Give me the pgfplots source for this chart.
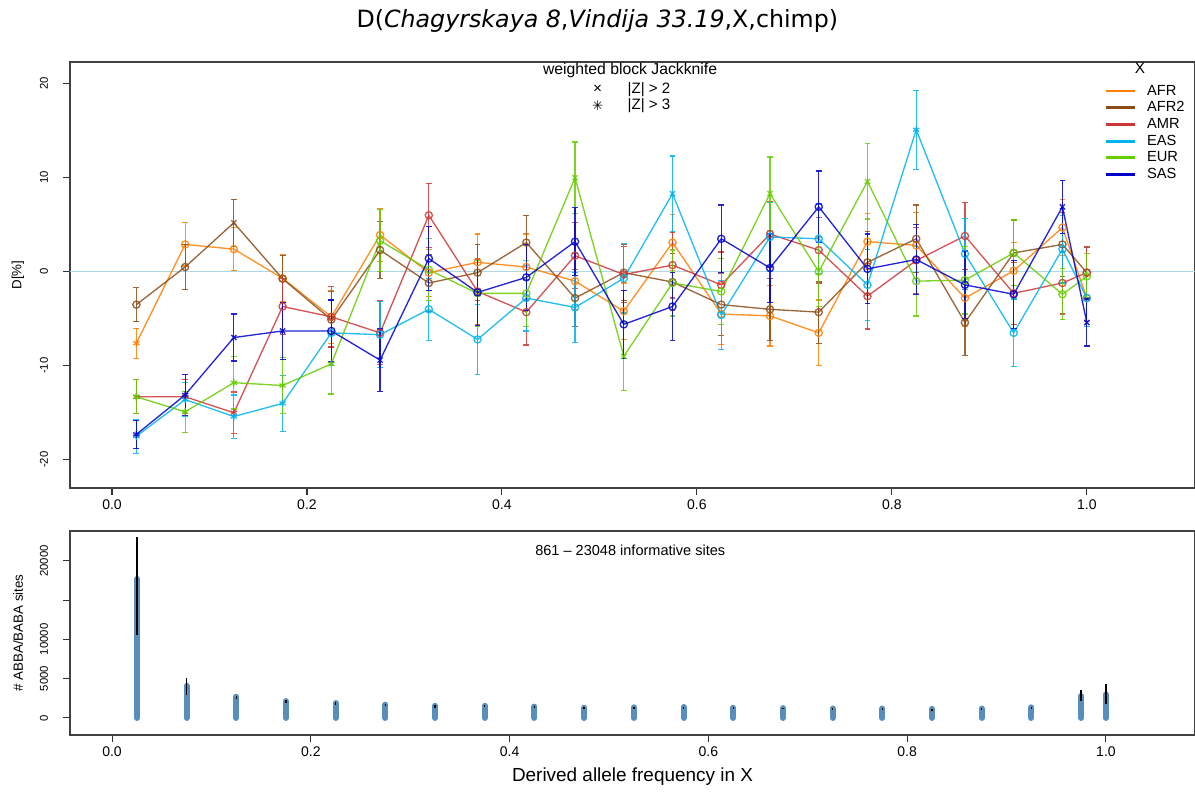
\documentclass[border=0pt]{standalone}
\usepackage{fontspec}
\setmainfont{Liberation Sans}
\newfontfamily\djv{DejaVu Sans}
\usepackage{pgfplots}
\usepackage{pgfplotstable}
\pgfplotsset{compat=1.18}

\definecolor{AFRc}{RGB}{255,127,0}
\definecolor{AFRtwoc}{RGB}{139,76,24}
\definecolor{AMRc}{RGB}{205,55,55}
\definecolor{EASc}{RGB}{0,178,238}
\definecolor{EURc}{RGB}{102,205,0}
\definecolor{SASc}{RGB}{0,0,205}
\definecolor{zeroline}{RGB}{173,216,230}
\definecolor{barblue}{RGB}{70,130,180}

\pgfplotstableread{
x y e c
0.025 -7.6 1.6 s
0.075 2.9 2.3 c
0.125 2.4 2.3 c
0.175 -0.7 2.5 c
0.225 -4.8 2.8 c
0.275 3.9 2.8 c
0.325 -0.1 2.5 c
0.375 1.0 3.0 c
0.425 0.5 3.5 c
0.475 -1.0 3.0 c
0.525 -4.2 3.0 c
0.575 3.1 3.0 c
0.625 -4.5 3.2 c
0.675 -4.7 3.2 c
0.725 -6.5 3.5 c
0.775 3.2 3.0 c
0.825 2.8 3.5 c
0.875 -2.8 3.0 c
0.925 0.1 3.0 c
0.975 4.7 3.0 c
1.0 -2.8 2.5 c
}\afr
\pgfplotstableread{
x y e c
0.025 -3.5 1.8 c
0.075 0.5 2.4 c
0.125 5.2 2.5 x
0.175 -0.75 2.5 c
0.225 -5.1 3.0 c
0.275 2.3 3.0 c
0.325 -1.2 3.0 c
0.375 -0.1 3.0 c
0.425 3.1 2.9 c
0.475 -2.8 3.0 c
0.525 -0.1 3.0 c
0.575 -1.1 3.0 c
0.625 -3.5 3.3 c
0.675 -4.0 3.3 c
0.725 -4.3 3.3 c
0.775 1.0 3.3 c
0.825 3.5 3.6 c
0.875 -5.4 3.5 c
0.925 2.0 3.5 c
0.975 2.9 3.4 c
1.0 -0.1 2.7 c
}\afrtwo
\pgfplotstableread{
x y e c
0.025 -13.3 1.8 s
0.075 -13.3 1.8 s
0.125 -15.0 2.2 s
0.175 -3.7 3.0 c
0.225 -4.8 3.2 c
0.275 -6.5 3.4 c
0.325 6.0 3.4 c
0.375 -2.1 3.5 c
0.425 -4.3 3.5 c
0.475 1.7 3.5 c
0.525 -0.3 3.0 c
0.575 0.7 3.5 c
0.625 -1.4 3.5 c
0.675 4.0 3.5 c
0.725 2.3 3.5 c
0.775 -2.6 3.5 c
0.825 1.2 3.5 c
0.875 3.8 3.6 c
0.925 -2.3 3.3 c
0.975 -1.2 3.3 c
1.0 -0.1 2.8 c
}\amr
\pgfplotstableread{
x y e c
0.025 -17.5 1.8 s
0.075 -13.6 1.8 s
0.125 -15.4 2.3 s
0.175 -14.0 3.0 s
0.225 -6.5 3.5 c
0.275 -6.7 3.5 c
0.325 -4.0 3.3 c
0.375 -7.2 3.7 c
0.425 -2.8 3.5 c
0.475 -3.8 3.7 c
0.525 -0.7 3.7 c
0.575 8.3 4.0 x
0.625 -4.6 3.7 c
0.675 3.7 3.7 c
0.725 3.5 3.7 c
0.775 -1.4 3.8 c
0.825 15.1 4.2 s
0.875 1.9 3.8 c
0.925 -6.5 3.6 c
0.975 2.4 3.6 c
1.0 -2.8 3.0 c
}\eas
\pgfplotstableread{
x y e c
0.025 -13.3 1.8 s
0.075 -14.9 2.2 s
0.125 -11.8 2.8 s
0.175 -12.1 3.0 s
0.225 -9.8 3.2 s
0.275 3.3 3.3 c
0.325 0.2 3.3 c
0.375 -2.3 3.5 c
0.425 -2.3 3.5 c
0.475 10.0 3.8 x
0.525 -9.0 3.6 x
0.575 -1.2 3.5 c
0.625 -2.1 3.5 c
0.675 8.3 3.9 x
0.725 0.0 3.7 c
0.775 9.6 4.0 x
0.825 -1.0 3.7 c
0.875 -0.9 3.6 c
0.925 2.0 3.5 c
0.975 -2.4 2.7 c
1.0 -0.5 2.4 c
}\eur
\pgfplotstableread{
x y e c
0.025 -17.3 1.5 s
0.075 -13.1 2.2 s
0.125 -7.0 2.5 x
0.175 -6.3 3.0 x
0.225 -6.3 3.3 c
0.275 -9.4 3.3 x
0.325 1.4 3.4 c
0.375 -2.2 3.5 c
0.425 -0.6 3.5 c
0.475 3.2 3.6 c
0.525 -5.6 3.6 c
0.575 -3.7 3.6 c
0.625 3.5 3.6 c
0.675 0.4 3.7 c
0.725 6.9 3.8 c
0.775 0.3 3.7 c
0.825 1.3 3.7 c
0.875 -1.4 3.6 c
0.925 -2.4 3.6 c
0.975 6.9 2.8 x
1.0 -5.4 2.5 x
}\sas
\pgfplotstableread{
x y ep em
0.025 17700 5348 7200
0.075 4100 1000 1200
0.125 2700 100 300
0.175 2150 100 250
0.225 1900 100 200
0.275 1700 50 200
0.325 1550 100 250
0.375 1550 50 200
0.425 1450 50 200
0.475 1300 50 150
0.525 1350 50 150
0.575 1400 50 250
0.625 1300 50 200
0.675 1250 50 150
0.725 1200 50 200
0.775 1200 50 150
0.825 1150 50 289
0.875 1200 50 150
0.925 1350 50 150
0.975 2800 700 700
1.0 3000 1300 1200
}\sites

\pgfplotsset{
  dser/.style={color=#1, line width=1pt, draw opacity=0.85, mark size=2.7pt,
    scatter, scatter src=explicit symbolic,
    scatter/classes={c={mark=o,draw=#1},x={mark=x,draw=#1},s={mark=asterisk,draw=#1}},
    /pgfplots/error bars/y dir=both, /pgfplots/error bars/y explicit,
    /pgfplots/error bars/error bar style={draw=#1, line width=0.9pt, draw opacity=0.85},
    /pgfplots/error bars/error mark options={draw=#1, rotate=90, mark size=2.2pt, line width=0.9pt},
    forget plot},
  rstyle/.style={
    scale only axis, width=843.75pt,
    tick align=outside, xtick pos=bottom, ytick pos=left,
    major tick length=5pt,
    axis line style={black!75, line width=0.8pt},
    every tick/.style={black!80, line width=0.8pt},
    /pgf/number format/assume math mode=true,
    xtick={0,0.2,0.4,0.6,0.8,1},
    xticklabel style={font=\fontsize{10.5}{12}\selectfont,
      /pgf/number format/.cd, fixed, fixed zerofill, precision=1},
    yticklabel style={font=\fontsize{8.5}{10}\selectfont, xshift=-8pt, rotate=90, anchor=south},
    ylabel style={at={(axis description cs:-0.0462,0.5)}, anchor=center,
      font=\fontsize{10}{12}\selectfont},
  }
}

\begin{document}
\begin{tikzpicture}[x=1pt,y=1pt]
\useasboundingbox (0,0) rectangle (896.25,-594);
\node[font=\djv\fontsize{17.8}{21}\selectfont] at (448,-15.5)
  {D(\textit{Chagyrskaya 8},\textit{Vindija 33.19},X,chimp)};

\begin{axis}[rstyle,
  at={(52.5pt,-366pt)}, anchor=south west,
  height=319.5pt,
  xmin=-0.0431, xmax=1.111, ymin=-23, ymax=22.3,
  ytick={-20,-10,0,10,20},
  ylabel={D[\%]},
  legend style={at={(axis description cs:0.919,0.953)}, anchor=north west,
    draw=none, fill=none, font=\fontsize{11}{12}\selectfont,
    inner sep=0pt, row sep=-0.6pt,
    /tikz/every odd column/.append style={column sep=6pt}},
  legend cell align=left,
  legend image code/.code={\draw[#1,line width=2.2pt] (0pt,0pt) -- (22pt,0pt);},
]
\addplot[zeroline, line width=1pt, forget plot] coordinates {(-0.0431,0) (1.111,0)};
\addplot[dser=AFRc] table[x=x,y=y,y error=e,meta=c] {\afr};
\addplot[dser=AFRtwoc] table[x=x,y=y,y error=e,meta=c] {\afrtwo};
\addplot[dser=AMRc] table[x=x,y=y,y error=e,meta=c] {\amr};
\addplot[dser=EASc] table[x=x,y=y,y error=e,meta=c] {\eas};
\addplot[dser=EURc] table[x=x,y=y,y error=e,meta=c] {\eur};
\addplot[dser=SASc] table[x=x,y=y,y error=e,meta=c] {\sas};
\addlegendimage{AFRc}\addlegendentry{AFR}
\addlegendimage{AFRtwoc}\addlegendentry{AFR2}
\addlegendimage{AMRc}\addlegendentry{AMR}
\addlegendimage{EASc}\addlegendentry{EAS}
\addlegendimage{EURc}\addlegendentry{EUR}
\addlegendimage{SASc}\addlegendentry{SAS}
\node[font=\fontsize{11.5}{13}\selectfont] at (axis description cs:0.951,0.985) {X};
\node[font=\fontsize{11.8}{13}\selectfont] at (axis description cs:0.4978,0.980) {weighted block Jackknife};
\node[font=\fontsize{11.5}{13}\selectfont] at (axis description cs:0.469,0.936) {×};
\node[font=\fontsize{11.3}{13}\selectfont, anchor=west] at (axis description cs:0.4915,0.936) {|Z| > 2};
\node[font=\djv\fontsize{10}{11}\selectfont] at (axis description cs:0.469,0.898) {✳};
\node[font=\fontsize{11.3}{13}\selectfont, anchor=west] at (axis description cs:0.4915,0.898) {|Z| > 3};
\end{axis}

\begin{axis}[rstyle,
  at={(52.5pt,-551.25pt)}, anchor=south west,
  height=153pt,
  xmin=-0.0423, xmax=1.0896, ymin=-2170, ymax=23800,
  ytick={0,5000,10000,15000,20000},
  yticklabels={0,5000,10000,,20000},
  scaled y ticks=false,
  ylabel={\# ABBA/BABA sites},
  xlabel={Derived allele frequency in X},
  xlabel style={at={(axis description cs:0.5,0)}, anchor=center, yshift=-31.5pt,
    font=\fontsize{14.2}{16}\selectfont},
]
\addplot[ycomb, barblue, line width=4.5pt, line cap=round, draw opacity=0.9]
  table[x=x,y=y] {\sites};
\addplot[draw=none, mark=none,
  error bars/.cd, y dir=both, y explicit, error mark=none,
  error bar style={draw=black, line width=1pt}]
  table[x=x,y=y,y error plus=ep,y error minus=em] {\sites};
\node[font=\fontsize{10.9}{12}\selectfont] at (axis description cs:0.498,0.907) {861 – 23048 informative sites};
\end{axis}
\end{tikzpicture}
\end{document}
